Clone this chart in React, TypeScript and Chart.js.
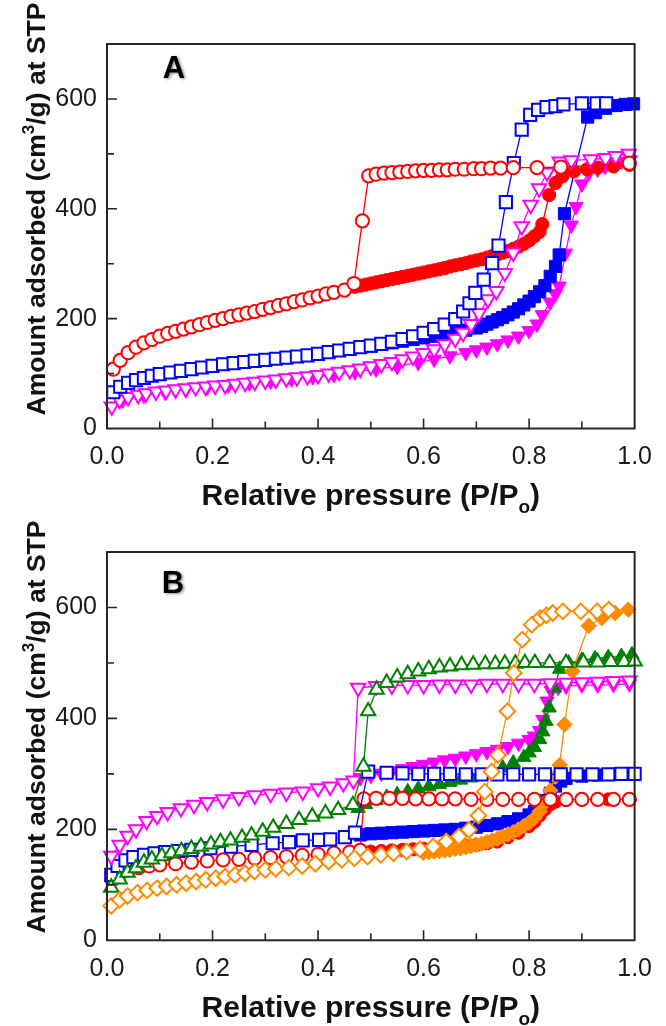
import React, { useEffect, useRef } from 'react';
import { Chart, registerables } from 'chart.js';

Chart.register(...registerables);

const FONT = "'Liberation Sans', Arial, Helvetica, sans-serif";

// ---------- Panel A ----------
const aRedOpenX = [0.012,0.025,0.04,0.055,0.07,0.085,0.1,0.115,0.13,0.145,0.16,0.175,0.19,0.205,0.22,0.235,0.25,0.265,0.28,0.295,0.31,0.325,0.34,0.355,0.37,0.385,0.4,0.415,0.43,0.45,0.468,0.484,0.496,0.51,0.525,0.54,0.555,0.57,0.585,0.6,0.615,0.63,0.645,0.66,0.677,0.695,0.71,0.727,0.746,0.77,0.815,0.86,0.99];
const aRedOpenY = [108,124,138,148,156,162,168,173,177,181,185,189,193,197,200,204,207,210,213,217,220,224,227,231,234,238,241,245,248,252,264,378,460,463,465,466,467,468,469,470,470,471,471,472,472,473,473,474,474,475,475,476,483];
const aRedFillX = [0.47,0.48,0.49,0.5,0.51,0.52,0.53,0.54,0.55,0.56,0.57,0.58,0.59,0.6,0.61,0.62,0.63,0.64,0.65,0.66,0.67,0.68,0.69,0.7,0.71,0.72,0.73,0.74,0.75,0.76,0.77,0.78,0.79,0.8,0.81,0.82,0.825,0.838,0.85,0.863,0.885,0.91,0.93,0.96,0.99];
const aRedFillY = [258,260,262,264,266,268,270,272,274,276,278,280,282,284,286,288,290,292,295,297,299,301,304,306,308,311,314,317,320,323,327,331,336,342,350,358,372,425,447,459,468,472,475,477,480];
const aBlueOpenX = [0.012,0.025,0.04,0.055,0.07,0.085,0.1,0.12,0.14,0.16,0.18,0.2,0.22,0.24,0.26,0.28,0.3,0.32,0.34,0.36,0.38,0.4,0.42,0.44,0.46,0.48,0.5,0.52,0.54,0.56,0.58,0.6,0.62,0.64,0.66,0.675,0.687,0.698,0.714,0.73,0.742,0.756,0.771,0.786,0.802,0.817,0.833,0.85,0.865,0.9,0.928,0.946];
const aBlueOpenY = [66,76,83,88,92,96,99,102,105,108,111,114,117,119,121,123,125,127,129,131,133,136,139,142,145,148,151,154,158,163,168,174,181,189,199,213,228,247,271,301,333,412,483,544,571,580,585,587,590,592,592,592];
const aBlueFillX = [0.5,0.52,0.54,0.56,0.58,0.6,0.62,0.64,0.66,0.68,0.7,0.71,0.72,0.73,0.74,0.75,0.76,0.77,0.78,0.79,0.8,0.81,0.82,0.83,0.84,0.85,0.857,0.867,0.911,0.926,0.945,0.965,0.982,0.998];
const aBlueFillY = [150,153,156,159,162,165,168,171,175,179,183,186,190,194,198,202,207,212,218,225,232,240,249,260,277,295,316,391,567,575,583,588,590,591];
const aMagOpenX = [0.009,0.024,0.04,0.059,0.074,0.093,0.112,0.13,0.149,0.168,0.187,0.205,0.224,0.243,0.262,0.28,0.3,0.32,0.34,0.36,0.38,0.4,0.42,0.44,0.46,0.48,0.5,0.52,0.54,0.56,0.58,0.6,0.62,0.64,0.66,0.675,0.69,0.705,0.722,0.738,0.754,0.77,0.786,0.803,0.819,0.834,0.858,0.88,0.917,0.945,0.964,0.989];
const aMagOpenY = [40,52,57,61,64,67,69,71,73,75,76,78,79,81,83,85,87,89,91,93,95,97,100,103,106,109,113,117,121,126,131,137,144,153,163,174,190,210,235,250,283,320,368,407,437,466,486,488,490,492,496,500];
const aMagFillX = [0.03,0.07,0.11,0.15,0.19,0.23,0.27,0.31,0.35,0.39,0.43,0.47,0.51,0.55,0.59,0.62,0.65,0.68,0.7,0.72,0.74,0.76,0.78,0.8,0.815,0.825,0.84,0.85,0.857,0.869,0.88,0.889,0.9,0.913,0.93,0.944,0.96,0.975,0.992];
const aMagFillY = [52,60,66,71,75,79,83,86,90,94,98,103,108,113,120,126,132,138,143,148,154,161,168,178,190,207,230,245,259,319,370,404,445,465,472,477,482,486,489];

// ---------- Panel B ----------
const bRedOpenX = [0.01,0.025,0.04,0.06,0.08,0.1,0.13,0.16,0.19,0.22,0.25,0.28,0.31,0.34,0.37,0.4,0.43,0.46,0.48,0.487,0.51,0.535,0.56,0.585,0.61,0.635,0.66,0.69,0.72,0.75,0.78,0.81,0.84,0.87,0.9,0.93,0.96,0.99];
const bRedOpenY = [109,120,127,131,134,136,138,141,143,145,146,148,149,151,153,155,157,159,162,255,256,256,256,255,255,255,255,254,254,254,254,254,254,254,254,254,254,254];
const bRedFillX = [0.48,0.5,0.52,0.54,0.56,0.58,0.6,0.62,0.64,0.66,0.68,0.7,0.72,0.74,0.76,0.78,0.8,0.81,0.82,0.83,0.84,0.85,0.87,0.9,0.95,0.99];
const bRedFillY = [158,160,161,162,163,164,165,166,167,168,170,172,175,178,186,194,206,214,225,236,245,250,253,254,254,254];
const bBlueOpenX = [0.008,0.02,0.035,0.05,0.07,0.09,0.11,0.135,0.16,0.196,0.235,0.274,0.314,0.345,0.371,0.402,0.423,0.451,0.47,0.495,0.53,0.56,0.59,0.62,0.65,0.68,0.71,0.74,0.77,0.8,0.83,0.86,0.89,0.92,0.95,0.975,1.0];
const bBlueOpenY = [118,134,144,150,154,157,159,161,163,166,169,172,175,177,180,181,182,186,194,304,302,301,300,300,300,299,299,299,299,299,299,299,299,299,299,300,300];
const bBlueFillX = [0.48,0.5,0.52,0.54,0.56,0.58,0.6,0.62,0.64,0.66,0.68,0.7,0.72,0.74,0.76,0.78,0.8,0.81,0.82,0.83,0.84,0.85,0.86,0.87,0.9,0.93,0.96,0.99];
const bBlueFillY = [190,192,193,194,195,196,197,198,199,200,202,204,207,210,214,219,226,232,240,252,265,278,287,292,296,298,299,300];
const bMagOpenX = [0.008,0.024,0.039,0.055,0.075,0.095,0.115,0.14,0.165,0.19,0.22,0.25,0.28,0.31,0.34,0.371,0.4,0.423,0.448,0.467,0.476,0.51,0.54,0.57,0.6,0.63,0.66,0.69,0.72,0.75,0.78,0.81,0.84,0.87,0.9,0.93,0.96,0.99];
const bMagOpenY = [152,172,188,200,215,224,231,238,244,249,254,258,261,264,266,268,274,277,283,288,455,458,459,460,460,461,461,461,462,462,462,462,463,464,465,466,467,468];
const bMagFillX = [0.48,0.5,0.52,0.54,0.56,0.58,0.6,0.62,0.64,0.66,0.68,0.7,0.72,0.74,0.76,0.78,0.8,0.81,0.82,0.826,0.834,0.842,0.855,0.87,0.9,0.93,0.96,0.99];
const bMagFillY = [293,297,301,305,309,313,317,321,325,328,332,336,340,344,349,355,362,368,378,398,431,450,456,458,460,460,461,462];
const bGreenOpenX = [0.008,0.024,0.039,0.055,0.07,0.085,0.104,0.122,0.141,0.16,0.178,0.197,0.215,0.234,0.256,0.274,0.295,0.315,0.34,0.364,0.389,0.414,0.438,0.466,0.486,0.495,0.511,0.53,0.55,0.57,0.59,0.61,0.63,0.65,0.672,0.694,0.717,0.736,0.754,0.774,0.792,0.811,0.839,0.87,0.903,0.93,0.955,0.98,1.0];
const bGreenOpenY = [95,110,122,130,140,146,152,157,161,165,169,173,177,180,185,189,196,203,210,217,223,229,235,244,313,413,452,464,474,480,485,489,492,494,496,497,498,498,499,499,500,500,500,500,501,501,502,502,503];
const bGreenFillX = [0.476,0.49,0.51,0.53,0.55,0.57,0.59,0.61,0.63,0.65,0.67,0.69,0.71,0.73,0.75,0.77,0.79,0.8,0.81,0.82,0.826,0.832,0.838,0.848,0.858,0.875,0.9,0.925,0.95,0.975,0.995];
const bGreenFillY = [238,245,252,258,263,268,273,277,281,285,289,293,296,303,311,320,330,338,348,362,376,395,419,455,489,500,505,508,510,512,515];
const bOrOpenX = [0.008,0.024,0.039,0.058,0.076,0.095,0.113,0.132,0.15,0.169,0.187,0.206,0.224,0.243,0.262,0.28,0.3,0.32,0.345,0.37,0.395,0.42,0.445,0.469,0.494,0.519,0.543,0.568,0.593,0.618,0.643,0.667,0.686,0.704,0.716,0.729,0.741,0.759,0.771,0.787,0.805,0.821,0.833,0.845,0.864,0.898,0.929,0.951];
const bOrOpenY = [62,73,80,86,90,94,97,100,103,106,109,112,115,118,121,124,127,129,131,134,138,142,145,148,151,154,157,160,164,169,178,187,199,225,268,304,334,413,482,542,569,581,586,590,593,593,593,596];
const bOrFillX = [0.6,0.61,0.62,0.63,0.64,0.65,0.66,0.67,0.68,0.69,0.7,0.71,0.72,0.73,0.74,0.75,0.76,0.77,0.78,0.79,0.8,0.81,0.82,0.83,0.84,0.85,0.858,0.867,0.882,0.913,0.938,0.963,0.988];
const bOrFillY = [158,159,160,161,162,163,165,166,168,170,172,174,177,180,183,187,191,195,200,206,212,220,232,248,270,295,316,389,485,567,581,590,596];

// axis ticks / labels
const xTickValues = [0, 0.2, 0.4, 0.6, 0.8, 1.0];
const yTickValues = [0, 200, 400, 600];

const RED = '#FF0000';
const BLUE = '#0000FF';
const MAGENTA = '#FF00FF';
const GREEN = '#008000';
const ORANGE = '#FF8A00';

type Series = {
  xs: number[];
  ys: number[];
  color: string;
  style: string;
  radius: number;
  filled: boolean;
  rot?: number;
};

const CIRCLE = { style: 'circle', radius: 6.6 };
const SQUARE = { style: 'rect', radius: 8.6 };
const TRI = { style: 'triangle', radius: 8.3 };
const DIAMOND = { style: 'rectRot', radius: 7.8 };

const panelA: Series[] = [
  { xs: aRedOpenX, ys: aRedOpenY, color: RED, ...CIRCLE, filled: false },
  { xs: aBlueOpenX, ys: aBlueOpenY, color: BLUE, ...SQUARE, filled: false },
  { xs: aMagOpenX, ys: aMagOpenY, color: MAGENTA, ...TRI, rot: 180, filled: false },
  { xs: aRedFillX, ys: aRedFillY, color: RED, ...CIRCLE, filled: true },
  { xs: aBlueFillX, ys: aBlueFillY, color: BLUE, ...SQUARE, filled: true },
  { xs: aMagFillX, ys: aMagFillY, color: MAGENTA, ...TRI, rot: 180, filled: true },
];

const panelB: Series[] = [
  { xs: bOrOpenX, ys: bOrOpenY, color: ORANGE, ...DIAMOND, filled: false },
  { xs: bGreenOpenX, ys: bGreenOpenY, color: GREEN, ...TRI, filled: false },
  { xs: bMagOpenX, ys: bMagOpenY, color: MAGENTA, ...TRI, rot: 180, filled: false },
  { xs: bBlueOpenX, ys: bBlueOpenY, color: BLUE, ...SQUARE, filled: false },
  { xs: bRedOpenX, ys: bRedOpenY, color: RED, ...CIRCLE, filled: false },
  { xs: bOrFillX, ys: bOrFillY, color: ORANGE, ...DIAMOND, filled: true },
  { xs: bGreenFillX, ys: bGreenFillY, color: GREEN, ...TRI, filled: true },
  { xs: bMagFillX, ys: bMagFillY, color: MAGENTA, ...TRI, rot: 180, filled: true },
  { xs: bBlueFillX, ys: bBlueFillY, color: BLUE, ...SQUARE, filled: true },
  { xs: bRedFillX, ys: bRedFillY, color: RED, ...CIRCLE, filled: true },
];

function makeDataset(s: Series) {
  return {
    data: s.xs.map((x, i) => ({ x, y: s.ys[i] })),
    borderColor: s.color,
    backgroundColor: s.color,
    borderWidth: 1.3,
    pointStyle: s.style,
    pointRotation: s.rot ?? 0,
    pointRadius: s.radius,
    pointHoverRadius: s.radius,
    pointBorderWidth: s.filled ? 1 : 2,
    pointBorderColor: s.color,
    pointBackgroundColor: s.filled ? s.color : '#ffffff',
    fill: false,
    tension: 0,
    clip: false,
    order: s.filled ? 2 : 1,
  };
}

type Geo = {
  top: number;
  right: number;
  xAxisH: number;
  label: string;
  labelX: number;
  labelY: number;
  yTitleY: number;
  xTitleBase: number;
};

type Part = { t: string; size: number; dy: number };

function drawParts(ctx: CanvasRenderingContext2D, parts: Part[], cx: number, base: number) {
  let total = 0;
  for (const p of parts) {
    ctx.font = `bold ${p.size}px ${FONT}`;
    total += ctx.measureText(p.t).width;
  }
  let x = cx - total / 2;
  ctx.textAlign = 'left';
  ctx.textBaseline = 'alphabetic';
  for (const p of parts) {
    ctx.font = `bold ${p.size}px ${FONT}`;
    ctx.fillText(p.t, x, base + p.dy);
    x += ctx.measureText(p.t).width;
  }
}

function decorPlugin(g: Geo) {
  return {
    id: 'decor' + g.label,
    afterDraw(chart: any) {
      const { ctx, chartArea: a, scales } = chart;
      const sx = scales.x;
      const sy = scales.y;
      ctx.save();
      ctx.strokeStyle = '#262626';
      ctx.lineWidth = 1.6;
      ctx.beginPath();
      for (const t of sx.ticks) {
        const k = Math.round(t.value * 10);
        if (k <= 0 || k >= 10) continue;
        const px = sx.getPixelForValue(t.value);
        const len = k % 2 === 0 ? 10 : 7;
        ctx.moveTo(px, a.bottom);
        ctx.lineTo(px, a.bottom - len);
      }
      for (const t of sy.ticks) {
        const v = Math.round(t.value);
        if (v <= 0 || v >= 700) continue;
        const py = sy.getPixelForValue(t.value);
        const len = v % 200 === 0 ? 10 : 7;
        ctx.moveTo(a.left, py);
        ctx.lineTo(a.left + len, py);
      }
      ctx.stroke();
      ctx.lineWidth = 2;
      ctx.strokeRect(a.left, a.top, a.right - a.left, a.bottom - a.top);

      // panel letter
      ctx.save();
      ctx.fillStyle = '#000';
      ctx.font = `bold 31px ${FONT}`;
      ctx.textAlign = 'center';
      ctx.textBaseline = 'middle';
      ctx.shadowColor = 'rgba(0,0,0,0.45)';
      ctx.shadowBlur = 3;
      ctx.shadowOffsetX = 1.5;
      ctx.shadowOffsetY = 1.5;
      ctx.fillText(g.label, g.labelX, g.labelY);
      ctx.restore();

      // axis titles
      ctx.fillStyle = '#111';
      drawParts(
        ctx,
        [
          { t: 'Relative pressure (P/P', size: 30, dy: 0 },
          { t: 'o', size: 19, dy: 8 },
          { t: ')', size: 30, dy: 0 },
        ],
        (a.left + a.right) / 2,
        g.xTitleBase
      );
      ctx.save();
      ctx.translate(35, g.yTitleY);
      ctx.rotate(-Math.PI / 2);
      drawParts(
        ctx,
        [
          { t: 'Amount adsorbed (cm', size: 26.5, dy: 0 },
          { t: '3', size: 17, dy: -11 },
          { t: '/g) at STP', size: 26.5, dy: 0 },
        ],
        0,
        10
      );
      ctx.restore();
      ctx.restore();
    },
  };
}

function buildChart(canvas: HTMLCanvasElement, series: Series[], g: Geo) {
  return new Chart(canvas, {
    type: 'line',
    data: { datasets: series.map(makeDataset) as any },
    options: {
      responsive: false,
      animation: false,
      events: [],
      layout: { padding: { left: 0, top: g.top, right: g.right, bottom: 0 } },
      plugins: { legend: { display: false }, tooltip: { enabled: false } },
      scales: {
        x: {
          type: 'linear',
          min: 0,
          max: 1,
          afterFit: (s: any) => {
            s.height = g.xAxisH;
          },
          grid: { display: false, drawTicks: false },
          border: { display: false },
          ticks: {
            stepSize: 0.1,
            autoSkip: false,
            maxRotation: 0,
            minRotation: 0,
            padding: 14,
            color: '#1a1a1a',
            font: { size: 25, family: FONT },
            callback: (v: any) => {
              const n = Number(v);
              const hit = xTickValues.find((t) => Math.abs(t - n) < 1e-6);
              return hit === undefined ? '' : hit.toFixed(1);
            },
          },
        },
        y: {
          type: 'linear',
          min: 0,
          max: 700,
          afterFit: (s: any) => {
            s.width = 107;
          },
          grid: { display: false, drawTicks: false },
          border: { display: false },
          ticks: {
            stepSize: 100,
            autoSkip: false,
            padding: 10,
            color: '#1a1a1a',
            font: { size: 25, family: FONT },
            callback: (v: any) => {
              const n = Math.round(Number(v));
              return yTickValues.includes(n) ? String(n) : '';
            },
          },
        },
      },
    },
    plugins: [decorPlugin(g)],
  } as any);
}

export default function App() {
  const refA = useRef<HTMLCanvasElement | null>(null);
  const refB = useRef<HTMLCanvasElement | null>(null);

  useEffect(() => {
    const ca = buildChart(refA.current!, panelA, {
      top: 44,
      right: 24,
      xAxisH: 84.5,
      label: 'A',
      labelX: 174,
      labelY: 69,
      yTitleY: 209,
      xTitleBase: 505,
    });
    const cb = buildChart(refB.current!, panelB, {
      top: 39,
      right: 20,
      xAxisH: 85.7,
      label: 'B',
      labelX: 173,
      labelY: 71,
      yTitleY: 214,
      xTitleBase: 504,
    });
    return () => {
      ca.destroy();
      cb.destroy();
    };
  }, []);

  return (
    <div style={{ position: 'absolute', left: 0, top: 0, width: 666, height: 1026, background: '#fff' }}>
      <canvas
        ref={refA}
        width={666}
        height={513}
        style={{ position: 'absolute', left: 0, top: 0, width: 666, height: 513 }}
      />
      <canvas
        ref={refB}
        width={666}
        height={513}
        style={{ position: 'absolute', left: 0, top: 513, width: 666, height: 513 }}
      />
    </div>
  );
}
